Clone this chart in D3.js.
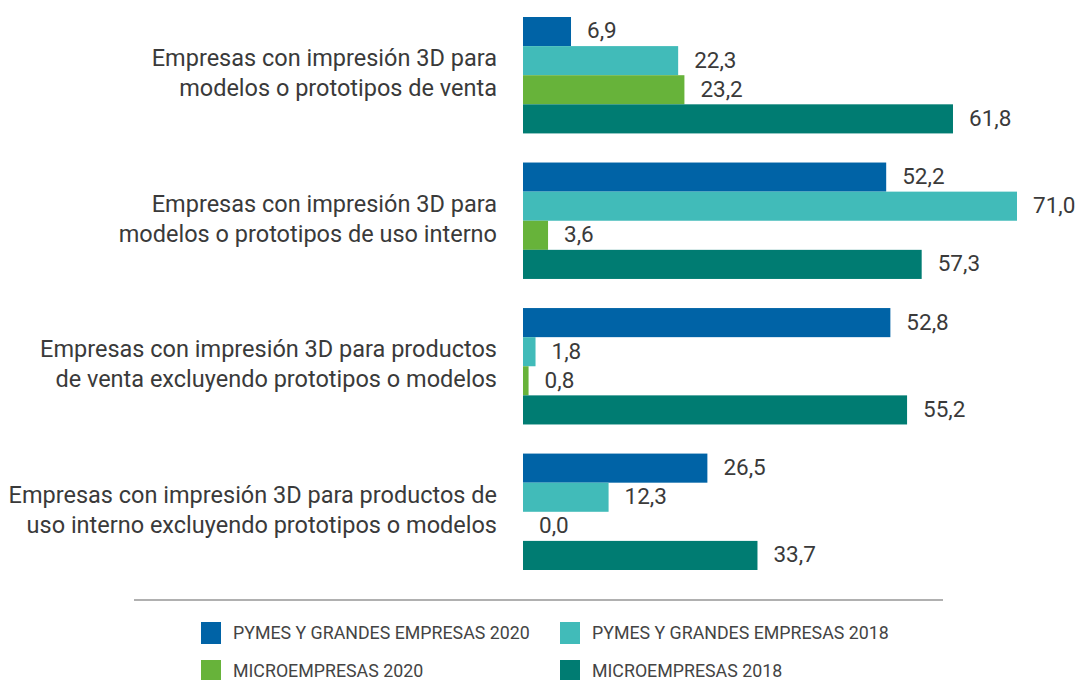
<!DOCTYPE html>
<html lang="es">
<head>
<meta charset="UTF-8">
<title>Impresión 3D</title>
<style>
  * { margin: 0; padding: 0; }
  body { background: #fff; }
  text { font-family: Roboto, "Noto Sans", sans-serif; }
</style>
</head>
<body>
<div id="chart"></div>
<script src="https://cdn.jsdelivr.net/npm/d3@7"></script>
<script>
// datos
const categories = [
  ['Empresas con impresión 3D para', 'modelos o prototipos de venta'],
  ['Empresas con impresión 3D para', 'modelos o prototipos de uso interno'],
  ['Empresas con impresión 3D para productos', 'de venta excluyendo prototipos o modelos'],
  ['Empresas con impresión 3D para productos de', 'uso interno excluyendo prototipos o modelos']
]
const seriesNames = [
  'PYMES Y GRANDES EMPRESAS 2020',
  'PYMES Y GRANDES EMPRESAS 2018',
  'MICROEMPRESAS 2020',
  'MICROEMPRESAS 2018'
]
const pymes2020 = [6.9, 52.2, 52.8, 26.5]
const pymes2018 = [22.3, 71.0, 1.8, 12.3]
const micro2020 = [23.2, 3.6, 0.8, 0.0]
const micro2018 = [61.8, 57.3, 55.2, 33.7]

const colors = ['#0063a6', '#41bbb9', '#67b33a', '#007c72']
const seriesValues = [pymes2020, pymes2018, micro2020, micro2018]

const width = 1075
const height = 680

const svg = d3.select('#chart')
  .append('svg')
  .attr('width', width)
  .attr('height', height)

const fmt = d3.formatLocale({ decimal: ',', thousands: '.', grouping: [3], currency: ['', '€'] }).format('.1f')

const x = d3.scaleLinear()
  .domain([0, 71])
  .range([523, 1017])

const y = d3.scaleBand()
  .domain(d3.range(categories.length))
  .range([17, 570])
  .paddingInner(0.2)

const ySub = d3.scaleBand()
  .domain(d3.range(seriesNames.length))
  .range([0, y.bandwidth()])

const groups = svg.selectAll('g.group')
  .data(categories)
  .join('g')
  .attr('class', 'group')
  .attr('transform', (d, i) => `translate(0, ${y(i)})`)

groups.selectAll('rect')
  .data((d, i) => seriesValues.map((s, j) => ({ v: s[i], j })))
  .join('rect')
  .attr('x', x(0))
  .attr('y', d => ySub(d.j))
  .attr('width', d => x(d.v) - x(0))
  .attr('height', ySub.bandwidth())
  .attr('fill', d => colors[d.j])

groups.selectAll('text.value')
  .data((d, i) => seriesValues.map((s, j) => ({ v: s[i], j })))
  .join('text')
  .attr('class', 'value')
  .attr('x', d => x(d.v) + 16)
  .attr('y', d => ySub(d.j) + ySub.bandwidth() / 2 + 1)
  .attr('dominant-baseline', 'middle')
  .attr('fill', '#3a3a3a')
  .style('font-size', '22.5px')
  .text(d => fmt(d.v))

// etiquetas de categoría
groups.append('text')
  .attr('class', 'cat')
  .attr('x', 497)
  .attr('y', y.bandwidth() / 2)
  .attr('text-anchor', 'end')
  .attr('fill', '#3a3a3a')
  .style('font-size', '23.5px')
  .selectAll('tspan')
  .data(d => d)
  .join('tspan')
  .attr('x', 497)
  .attr('y', (d, i) => y.bandwidth() / 2 + (i === 0 ? -15 : 15))
  .attr('dominant-baseline', 'middle')
  .text(d => d)

// leyenda
svg.append('line')
  .attr('x1', 134)
  .attr('x2', 943)
  .attr('y1', 600)
  .attr('y2', 600)
  .attr('stroke', '#b0b0b0')
  .attr('stroke-width', 2)

const legend = svg.selectAll('g.legend')
  .data(seriesNames)
  .join('g')
  .attr('class', 'legend')
  .attr('transform', (d, i) => `translate(${i % 2 === 0 ? 201 : 560}, ${i < 2 ? 633 : 671})`)

legend.append('rect')
  .attr('x', 0)
  .attr('y', -11)
  .attr('width', 20)
  .attr('height', 22)
  .attr('fill', (d, i) => colors[i])

legend.append('text')
  .attr('x', 32)
  .attr('y', 1)
  .attr('dominant-baseline', 'middle')
  .attr('fill', '#444')
  .style('font-size', '17.8px')
  .text(d => d)
</script>
</body>
</html>
